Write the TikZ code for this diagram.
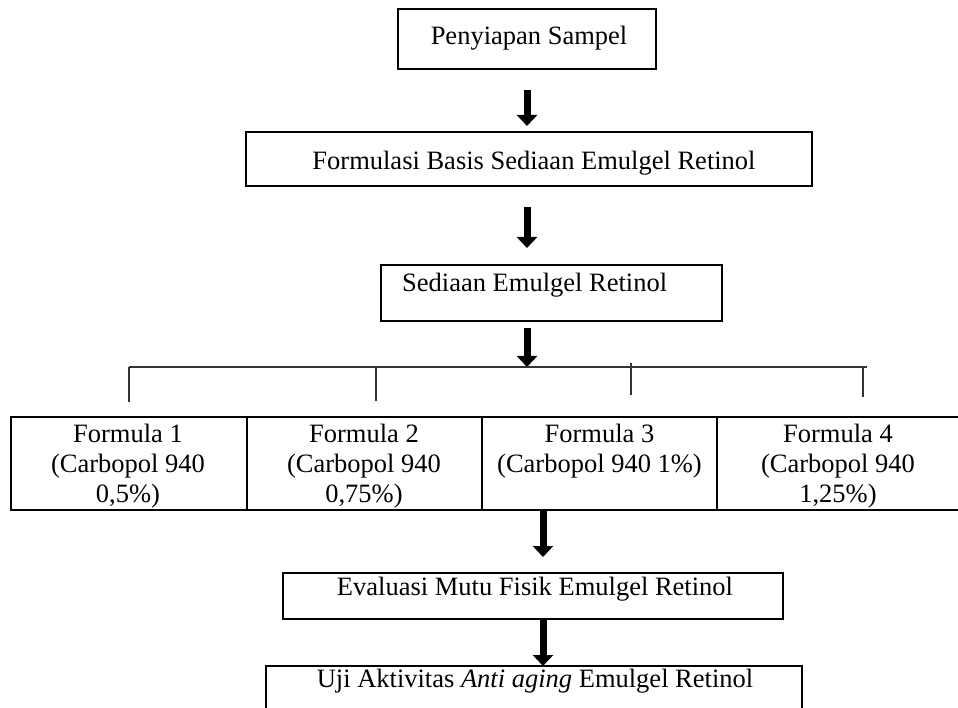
\documentclass[tikz,border=0pt]{standalone}
\usepackage{fontspec}
\setmainfont{Liberation Serif}
\usetikzlibrary{arrows.meta}
\begin{document}
\begin{tikzpicture}[x=1pt,y=-1pt,
  box/.style={draw=black,line width=2.6pt,minimum width=#1,inner sep=0pt,outer sep=0pt},
  cell/.style={draw=black,line width=2.6pt,minimum width=#1,minimum height=93pt,inner sep=0pt,outer sep=0pt},
  txt/.style={anchor=base,inner sep=0pt,font=\fontsize{26.5}{30}\selectfont},
  ctxt/.style={anchor=base,inner sep=0pt,font=\fontsize{26.5}{30}\selectfont},
  bigarrow/.style={line width=7pt,-{Triangle[width=20pt,length=11pt]}},
  thin/.style={draw=black!80,line width=1.3pt}]
\useasboundingbox (0,0) rectangle (958,708);
\fill[white] (0,0) rectangle (958,708);
% boxes
\node[box=258pt,minimum height=60pt] (b1) at (527,39) {};
\node[txt] (t1) at (529,45) {Penyiapan Sampel};
\node[box=566pt,minimum height=54pt] (b2) at (529,159) {};
\node[txt] (t2) at (534,170) {Formulasi Basis Sediaan Emulgel Retinol};
\node[box=341pt,minimum height=56pt] (b3) at (551.5,293) {};
\node[txt,anchor=base west] (t3) at (402,292) {Sediaan Emulgel Retinol};
% table
\node[cell=236pt] (c1) at (129,463.5) {};
\node[cell=235pt] (c2) at (364.5,463.5) {};
\node[cell=235pt] (c3) at (599.5,463.5) {};
\node[cell=243pt] (c4) at (838.5,463.5) {};
\node[ctxt] (f1a) at (128,442) {Formula 1};
\node[ctxt] (f1b) at (128,472) {(Carbopol 940};
\node[ctxt] (f1c) at (128,502) {0,5\%)};
\node[ctxt] (f2a) at (364,442) {Formula 2};
\node[ctxt] (f2b) at (364,472) {(Carbopol 940};
\node[ctxt] (f2c) at (364,502) {0,75\%)};
\node[ctxt] (f3a) at (599.5,442) {Formula 3};
\node[ctxt] (f3b) at (599.5,472) {(Carbopol 940 1\%)};
\node[ctxt] (f4a) at (838,442) {Formula 4};
\node[ctxt] (f4b) at (838,472) {(Carbopol 940};
\node[ctxt] (f4c) at (838,502) {1,25\%)};
\node[box=500pt,minimum height=46pt] (b4) at (533,596) {};
\node[txt] (t4) at (535,595) {Evaluasi Mutu Fisik Emulgel Retinol};
\node[box=536pt,minimum height=64pt] (b5) at (534,698) {};
\node[txt] (t5) at (535,687) {Uji Aktivitas \textit{Anti aging} Emulgel Retinol};
% branch coordinates
\coordinate (hl) at (129,367);
\coordinate (hr) at (867,367);
\coordinate (v1) at (129,402);
\coordinate (v2a) at (376,367);
\coordinate (v2) at (376,401);
\coordinate (v3a) at (631,363);
\coordinate (v3) at (631,395);
\coordinate (v4a) at (863,367);
\coordinate (v4) at (863,397);
\coordinate (hit) at (527,367);
\coordinate (s1) at (527,0);
\coordinate (s2) at (543,0);
% arrows
\draw[bigarrow,shorten <=21pt] (s1 |- b1.south) -- (527,126);
\draw[bigarrow,shorten <=21pt] (s1 |- b2.south) -- (527,248);
\draw[bigarrow,shorten <=7pt] (s1 |- b3.south) -- (hit);
\draw[bigarrow] (s2 |- c3.south) -- (543,557);
\draw[bigarrow] (s2 |- b4.south) -- (s2 |- b5.north);
% thin connectors
\draw[thin] (hl) -- (hr);
\draw[thin] (hl) -- (v1);
\draw[thin] (v2a) -- (v2);
\draw[thin] (v3a) -- (v3);
\draw[thin] (v4a) -- (v4);
\end{tikzpicture}
\end{document}
